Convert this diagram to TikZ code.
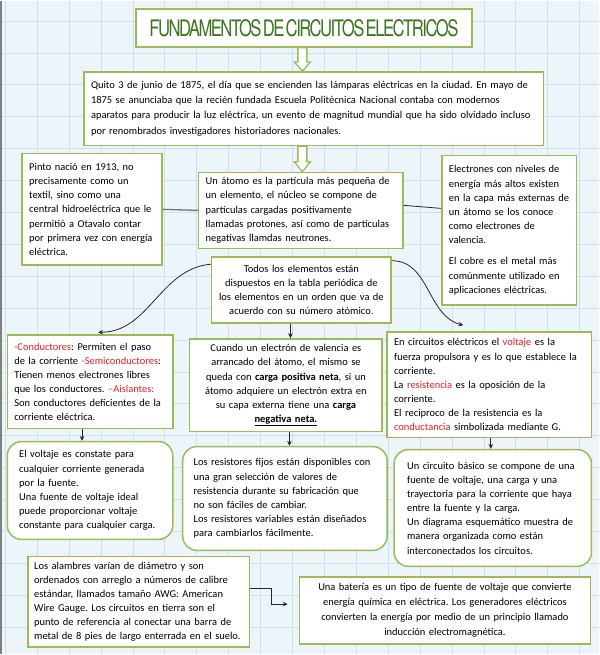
\documentclass[tikz,border=0pt]{standalone}
\usepackage{fontspec}
\usepackage{graphicx}
\setmainfont{Carlito}
\newfontfamily\titlefont[LetterSpace=-9,WordSpace=0.4]{TeX Gyre Heros}
\usetikzlibrary{arrows.meta}
\frenchspacing

\definecolor{boxgreen}{RGB}{155,187,89}
\definecolor{titlegreen}{RGB}{58,118,30}
\definecolor{gridblue}{RGB}{206,224,235}
\definecolor{paper}{RGB}{238,245,250}
\definecolor{txtred}{RGB}{232,28,36}
\newcommand{\rd}[1]{\textcolor{txtred}{#1}}

\begin{document}
\begin{tikzpicture}[x=1pt, y=-1pt,
    box/.style={draw=boxgreen, line width=1.5pt, fill=white, align=left,
        font=\fontsize{10.5}{14.2}\selectfont, inner xsep=7pt, inner ysep=3pt},
    rbox/.style={box, rounded corners=14pt, inner xsep=12pt},
    link/.style={draw=black!85, line width=0.8pt},
    arr/.style={link, -{Stealth[length=5pt,width=4.5pt]}},
    hollow/.style={draw=boxgreen, line width=1.3pt, fill=white, line join=miter}]

    % Background paper with grid
    \fill[paper] (0,0) rectangle (601,655);
    \foreach \gx in {5,37,...,600}
        \draw[gridblue, line width=0.6pt] (\gx,0) -- (\gx,655);
    \foreach \gy in {20,52,...,655}
        \draw[gridblue, line width=0.6pt] (0,\gy) -- (601,\gy);
    \draw[gray, line width=2pt] (1,0) -- (1,655);
    \useasboundingbox (0,0) rectangle (601,655);

    % Title
    \node[box, minimum width=337pt, minimum height=38pt, align=center] (title) at (304.5,27)
        {\textcolor{titlegreen}{\resizebox{310pt}{17pt}{\titlefont FUNDAMENTOS DE CIRCUITOS ELECTRICOS}}};

    % Top row
    \node[box, font=\fontsize{10.5}{15.2}\selectfont, minimum width=461pt, minimum height=74pt, text width=447pt] (quito) at (314.5,108)
        {Quito 3 de junio de 1875, el día que se encienden las lámparas eléctricas en la ciudad. En mayo de\\
         1875 se anunciaba que la recién fundada Escuela Politécnica Nacional contaba con modernos\\
         aparatos para producir la luz eléctrica, un evento de magnitud mundial que ha sido olvidado incluso\\
         por renombrados investigadores historiadores nacionales.};

    \node[box, minimum width=140pt, minimum height=112pt, text width=126pt] (pinto) at (92,209)
        {Pinto nació en 1913, no\\ precisamente como un\\ textil, sino como una\\ central hidroeléctrica que le\\
         permitió a Otavalo contar\\ por primera vez con energía\\ eléctrica.};

    \node[box, minimum width=205pt, minimum height=76pt, text width=191pt] (atom) at (301.5,210)
        {Un átomo es la partícula más pequeña de\\ un elemento, el núcleo se compone de\\
         partículas cargadas positivamente\\ llamadas protones, así como de partículas\\ negativas llamdas neutrones.};

    \node[box, minimum width=135pt, minimum height=150pt, text width=121pt] (electrons) at (510.5,230)
        {Electrones con niveles de\\ energía más altos existen\\ en la capa más externas de\\ un átomo se los conoce\\
         como electrones de\\ valencia.\\[7pt]
         El cobre es el metal más\\ comúnmente utilizado en\\ aplicaciones eléctricas.};

    \node[box, align=center, minimum width=180pt, minimum height=66pt, text width=166pt] (todos) at (302,290)
        {Todos los elementos están\\ dispuestos en la tabla periódica de\\ los elementos en un orden que va de\\ acuerdo con su número atómico.};

    % Middle row
    \node[box, minimum width=166pt, minimum height=94pt, text width=152pt] (cond) at (90,382)
        {\rd{-Conductores}: Permiten el paso\\ de la corriente \rd{-Semiconductores}:\\ Tienen menos electrones libres\\
         que los conductores. \rd{–Aislantes:}\\ Son conductores deficientes de la\\ corriente eléctrica.};

    \node[box, align=center, minimum width=193pt, minimum height=93pt, text width=179pt] (cuando) at (286.5,385.5)
        {Cuando un electrón de valencia es\\ arrancado del átomo, el mismo se\\ queda con \textbf{carga positiva neta}, si un\\
         átomo adquiere un electrón extra en\\ su capa externa tiene una \textbf{carga}\\ \underline{\textbf{negativa neta.}}};

    \node[box, minimum width=205pt, minimum height=106pt, text width=191pt] (circuits) at (490.5,385)
        {En circuitos eléctricos el \rd{voltaje} es la\\ fuerza propulsora y es lo que establece la\\ corriente.\\
         La \rd{resistencia} es la oposición de la\\ corriente.\\ El reciproco de la resistencia es la\\
         \rd{conductancia} simbolizada mediante G.};

    % Rounded row
    \node[rbox, minimum width=166pt, minimum height=98pt, text width=142pt] (volt) at (90,491)
        {El voltaje es constate para\\ cualquier corriente generada\\ por la fuente.\\ Una fuente de voltaje ideal\\
         puede proporcionar voltaje\\ constante para cualquier carga.};

    \node[rbox, inner xsep=11pt, minimum width=205pt, minimum height=104pt, text width=183pt] (resist) at (285.5,499)
        {Los resistores fijos están disponibles con\\ una gran selección de valores de\\ resistencia durante su fabricación que\\
         no son fáciles de cambiar.\\ Los resistores variables están diseñados\\ para cambiarlos fácilmente.};

    \node[rbox, inner xsep=13pt, minimum width=198pt, minimum height=117pt, text width=172pt] (basic) at (494,508.5)
        {Un circuito básico se compone de una\\ fuente de voltaje, una carga y una\\ trayectoria para la corriente que haya\\
         entre la fuente y la carga.\\ Un diagrama esquemático muestra de\\ manera organizada como están\\ interconectados los circuitos.};

    % Bottom row
    \node[box, font=\fontsize{10.5}{14}\selectfont, inner xsep=6pt, minimum width=222pt, minimum height=91pt, text width=210pt] (wires) at (139,602.5)
        {Los alambres varían de diámetro y son\\ ordenados con arreglo a números de calibre\\ estándar, llamados tamaño AWG: American\\
         Wire Gauge. Los circuitos en tierra son el\\ punto de referencia al conectar una barra de\\ metal de 8 pies de largo enterrada en el suelo.};

    \node[box, align=center, font=\fontsize{10.5}{15}\selectfont, minimum width=292pt, minimum height=67pt, text width=278pt] (battery) at (446,611.5)
        {Una batería es un tipo de fuente de voltaje que convierte\\ energía química en eléctrica. Los generadores eléctricos\\
         convierten la energía por medio de un principio llamado\\ inducción electromagnética.};

    % Hollow block arrows
    \draw[hollow] (303,0 |- quito.north) -- ++(8,-9) -- ++(-3.5,0) coordinate (h1) -- (h1 |- title.south)
        -- ++(-9,0) -- (h1 -| 298.5,0) -- ++(-3.5,0) -- cycle;
    \draw[hollow] (303,0 |- atom.north) -- ++(8,-10) -- ++(-3.5,0) coordinate (h2) -- (h2 |- quito.south)
        -- ++(-9,0) -- (h2 -| 298.5,0) -- ++(-3.5,0) -- cycle;

    % Connections
    \draw[link, draw=black!55, line width=1.3pt] (pinto.east) -- (atom.west);
    \draw[link] ([yshift=5pt]atom.east) -- ([yshift=22pt]electrons.west);
    \draw[arr] (todos.164) to[out=185, in=0] ([xshift=8pt,yshift=2pt]cond.north);
    \draw[arr] (todos.18) to[out=0, in=165] ([xshift=-26pt,yshift=6pt]circuits.north);
    \draw[arr] ([xshift=-11pt]todos.south) -- ([xshift=-11pt]todos.south |- cuando.north);
    \draw[arr] ([xshift=-8pt]cond.south) -- ([xshift=-8pt]cond.south |- volt.north);
    \draw[arr] ([xshift=3.5pt]cuando.south) -- ([xshift=3.5pt]cuando.south |- resist.north);
    \draw[arr] ([xshift=1.5pt]circuits.south) -- ([xshift=1.5pt]circuits.south |- basic.north);
    \draw[arr] ([yshift=13.5pt]wires.east) -- ++(21,0) |- ([xshift=-11pt,yshift=6.5pt]battery.west);

\end{tikzpicture}
\end{document}
